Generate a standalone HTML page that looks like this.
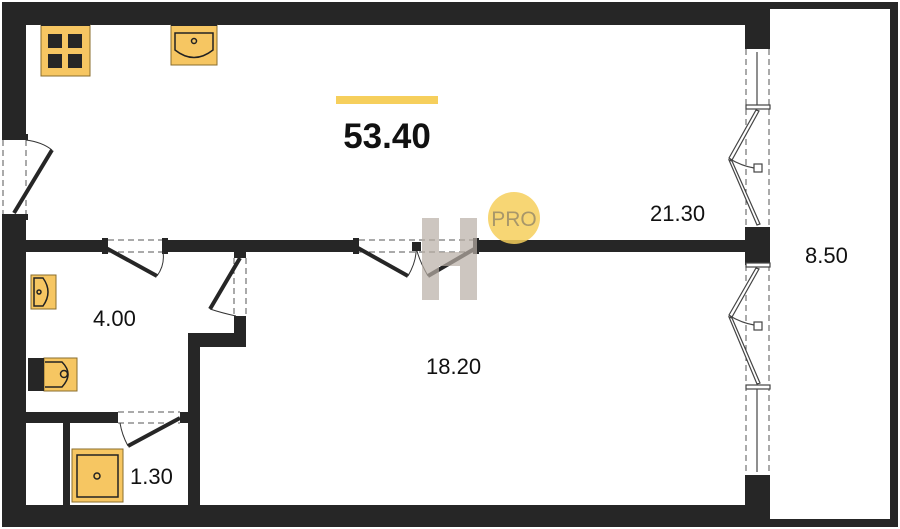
<!DOCTYPE html>
<html><head><meta charset="utf-8"><style>
html,body{margin:0;padding:0;background:#fff;}
svg{display:block;}
text{font-family:"Liberation Sans",sans-serif;}
</style></head><body>
<svg width="900" height="529" viewBox="0 0 900 529" xmlns="http://www.w3.org/2000/svg">
<rect width="900" height="529" fill="#fff"/>
<g fill="#262626">
<rect x="2" y="2" width="768" height="23"/>
<rect x="2" y="2" width="24" height="134"/>
<rect x="2" y="216" width="24" height="311"/>
<rect x="2" y="505" width="768" height="22"/>
<rect x="745" y="2" width="25" height="47"/>
<rect x="745" y="227" width="25" height="38"/>
<rect x="745" y="475" width="25" height="52"/>
<rect x="770" y="2" width="128" height="7"/>
<rect x="890" y="2" width="8" height="525"/>
<rect x="770" y="519" width="128" height="8"/>
<rect x="26" y="240" width="78" height="12"/>
<rect x="165" y="240" width="190" height="12"/>
<rect x="478" y="240" width="267" height="12"/>
<rect x="234" y="252" width="12" height="6"/>
<rect x="234" y="316" width="12" height="31"/>
<rect x="188" y="333" width="58" height="14"/>
<rect x="188" y="333" width="12" height="172"/>
<rect x="26" y="412" width="92" height="11"/>
<rect x="180" y="412" width="8" height="11"/>
<rect x="63" y="423" width="7" height="82"/>
<rect x="102" y="238" width="6" height="16"/>
<rect x="162" y="238" width="6" height="16"/>
<rect x="353" y="238" width="6" height="16"/>
<rect x="412" y="242" width="9" height="9"/>
<rect x="473" y="238" width="6" height="16"/>
<rect x="2" y="134" width="26" height="6"/>
<rect x="2" y="214" width="26" height="6"/>
</g>
<g stroke="#555" stroke-width="1" stroke-dasharray="6,4" fill="none">
<line x1="108" y1="240" x2="162" y2="240"/><line x1="108" y1="252" x2="162" y2="252"/>
<line x1="359" y1="240" x2="473" y2="240"/><line x1="359" y1="252" x2="473" y2="252"/>
<line x1="3" y1="140" x2="3" y2="214"/><line x1="26" y1="140" x2="26" y2="214"/>
<line x1="234" y1="258" x2="234" y2="316"/><line x1="246" y1="258" x2="246" y2="316"/>
<line x1="118" y1="412" x2="180" y2="412"/><line x1="118" y1="423" x2="180" y2="423"/>
<line x1="746" y1="49" x2="746" y2="227"/><line x1="769" y1="49" x2="769" y2="227"/>
<line x1="746" y1="265" x2="746" y2="475"/><line x1="769" y1="265" x2="769" y2="475"/>
</g>
<g stroke="#262626" stroke-width="4">
<line x1="106" y1="248" x2="157" y2="276"/>
<line x1="358" y1="248" x2="408" y2="276"/>
<line x1="428" y1="276" x2="476" y2="248"/>
<line x1="14" y1="213" x2="52" y2="150"/>
<line x1="240" y1="258" x2="210" y2="309"/>
<line x1="180" y1="418" x2="128" y2="446"/>
</g>
<g stroke="#333" stroke-width="1" fill="none">
<path d="M157 276 Q165 265 163 252"/>
<path d="M408 276 Q416 262 416 251"/>
<path d="M428 276 Q420 262 417 251"/>
<path d="M26 140 Q42 142 52 150"/>
<path d="M210 309 Q222 313 236 316"/>
<path d="M128 446 Q122 435 120 423"/>
</g>
<g fill="#b9afa6" opacity="0.7">
<rect x="422" y="218" width="17" height="82"/>
<rect x="460" y="218" width="17" height="82"/>
<rect x="439" y="252" width="21" height="14"/>
</g>
<circle cx="514" cy="218" r="26" fill="#f6cf5c" opacity="0.85"/>
<text x="514" y="226" font-size="21" fill="#a8976a" text-anchor="middle">PRO</text>
<g stroke="#444" stroke-width="1.2" fill="#fff">
<line x1="757" y1="52" x2="757" y2="106"/>
<rect x="746" y="105" width="24" height="4"/>
<polygon points="756,110 759,111 732,160 729,158"/>
<polygon points="729,160 732,161 760,224 757,225"/>
<path d="M730 159 Q742 166 754 168" fill="none"/>
<rect x="754" y="164" width="8" height="8"/>
<rect x="746" y="263" width="24" height="4"/>
<polygon points="756,268 759,269 732,317 729,315"/>
<polygon points="729,317 732,318 760,383 757,384"/>
<path d="M730 316 Q742 323 754 325" fill="none"/>
<rect x="754" y="322" width="8" height="8"/>
<rect x="746" y="385" width="24" height="4"/>
<line x1="757" y1="389" x2="757" y2="472"/>
</g>
<g stroke="#8a6d2c" stroke-width="1" fill="#f6c662">
<rect x="41" y="25" width="49" height="51"/>
<rect x="171" y="25" width="46" height="40"/>
<rect x="31" y="275" width="25" height="34"/>
<rect x="44" y="358" width="33" height="33"/>
<rect x="72" y="449" width="51" height="53"/>
</g>
<rect x="41" y="23" width="49" height="3" fill="#262626"/>
<rect x="171" y="23" width="46" height="3" fill="#262626"/>
<g fill="#262626">
<rect x="48" y="34" width="14" height="14"/><rect x="68" y="34" width="14" height="14"/>
<rect x="48" y="54" width="14" height="14"/><rect x="68" y="54" width="14" height="14"/>
<rect x="28" y="358" width="16" height="33"/>
</g>
<g stroke="#222" stroke-width="1.5" fill="none">
<path d="M175 33 H213 V50 Q194 65 175 50 Z"/>
<circle cx="194" cy="41" r="2.5"/>
<path d="M34 278 H43 Q53 292 43 306 H34 Z"/>
<circle cx="39" cy="292" r="2"/>
<path d="M45 362 H62 Q74 374 62 387 H45"/>
<circle cx="64" cy="374" r="3.5"/>
<rect x="77" y="455" width="41" height="42"/>
<circle cx="97" cy="476" r="3"/>
</g>
<rect x="336" y="96" width="102" height="8" fill="#f6cf5c"/>
<text x="387" y="148" font-size="35" font-weight="bold" fill="#111" text-anchor="middle">53.40</text>
<text x="650" y="221" font-size="22" fill="#111">21.30</text>
<text x="805" y="263" font-size="22" fill="#111">8.50</text>
<text x="93" y="326" font-size="22" fill="#111">4.00</text>
<text x="426" y="374" font-size="22" fill="#111">18.20</text>
<text x="130" y="484" font-size="22" fill="#111">1.30</text>
</svg>
</body></html>
